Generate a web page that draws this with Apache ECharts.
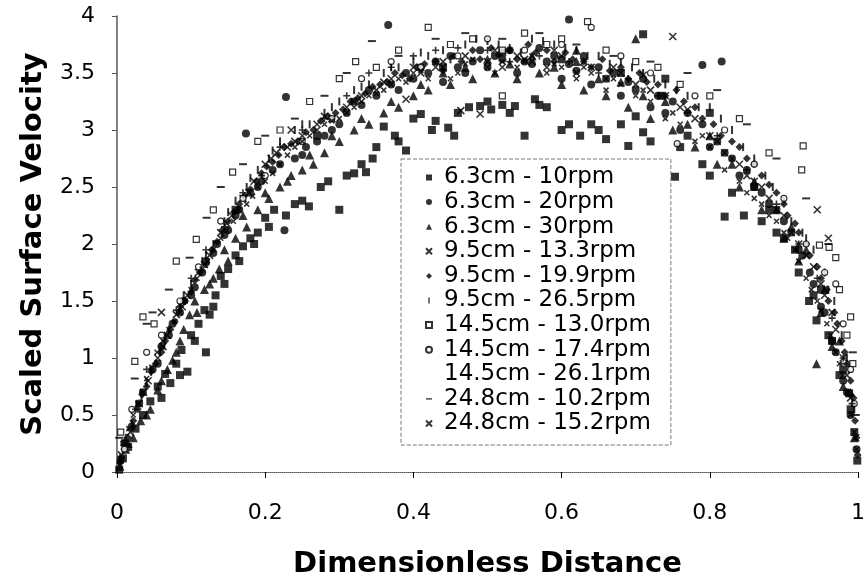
<!DOCTYPE html>
<html>
<head>
<meta charset="utf-8">
<script src="https://cdn.jsdelivr.net/npm/echarts@6/dist/echarts.min.js"></script>
<style>html,body{margin:0;padding:0;background:#fff}#c{width:868px;height:584px}</style>
</head>
<body>
<div id="c"></div>
<script>
const seriesNames = ["6.3cm - 10rpm","6.3cm - 20rpm","6.3cm - 30rpm","9.5cm - 13.3rpm","9.5cm - 19.9rpm","9.5cm - 26.5rpm","14.5cm - 13.0rpm","14.5cm - 17.4rpm","14.5cm - 26.1rpm","24.8cm - 10.2rpm","24.8cm - 15.2rpm"];
const xTicks = [0,0.2,0.4,0.6,0.8,1];
const yTicks = [0,0.5,1,1.5,2,2.5,3,3.5,4];

const d63_10 = [[0.003,0.02],[0.008,0.12],[0.015,0.22],[0.025,0.38],[0.035,0.5],[0.045,0.62],[0.055,0.75],[0.065,0.86],[0.072,0.78],[0.08,0.95],[0.087,1.07],[0.095,0.88],[0.1,1.2],[0.11,1.3],[0.118,1.42],[0.125,1.38],[0.133,1.55],[0.14,1.72],[0.15,1.78],[0.16,1.9],[0.17,1.98],[0.18,2.05],[0.19,2.1],[0.2,2.23],[0.212,2.3],[0.228,2.25],[0.24,2.35],[0.259,2.33],[0.275,2.5],[0.3,2.3],[0.31,2.6],[0.33,2.7],[0.336,2.63],[0.35,2.85],[0.36,3.03],[0.375,2.95],[0.39,2.82],[0.4,3.1],[0.41,3.14],[0.425,3.0],[0.447,3.02],[0.46,3.15],[0.475,3.2],[0.49,3.21],[0.505,3.18],[0.52,3.22],[0.537,3.21],[0.55,2.95],[0.564,3.27],[0.58,3.2],[0.6,3.0],[0.625,2.95],[0.64,3.05],[0.66,2.92],[0.69,2.86],[0.7,3.12],[0.72,2.9],[0.735,3.3],[0.753,2.59],[0.77,2.95],[0.79,2.7],[0.82,2.24],[0.846,2.25],[0.86,2.5],[0.88,2.3],[0.9,2.05],[0.915,1.95],[0.934,1.5],[0.944,1.33],[0.95,1.6],[0.96,1.2],[0.975,0.85],[0.988,0.69],[0.995,0.35],[0.999,0.1],[0.44,3.55],[0.52,3.68],[0.6,3.62],[0.68,3.5],[0.74,3.45],[0.8,3.15],[0.71,3.84],[0.16,2.3],[0.27,2.95],
  [0.13,1.45],[0.145,1.65],[0.165,1.85],[0.185,2.0],[0.205,2.15],[0.25,2.38],[0.285,2.55],[0.32,2.62],[0.345,2.75],[0.38,2.9],[0.43,3.08],[0.455,2.95],[0.5,3.25],[0.53,3.15],[0.57,3.22],[0.61,3.05],[0.65,3.0],[0.68,3.05],[0.71,2.98],[0.76,2.85],[0.8,2.6],[0.83,2.45],[0.87,2.2],[0.89,2.1],[0.92,1.75],[0.94,1.55],[0.965,1.15],[0.98,0.9],[0.99,0.55],[0.06,0.65],[0.085,0.85],[0.105,1.15],[0.12,1.05]];
const d63_20 = [[0.005,0.1],[0.02,0.4],[0.035,0.7],[0.048,0.9],[0.06,1.1],[0.075,1.3],[0.09,1.5],[0.105,1.62],[0.12,1.85],[0.135,2.0],[0.15,2.12],[0.165,2.3],[0.18,2.45],[0.195,2.55],[0.21,2.65],[0.226,2.12],[0.24,2.75],[0.255,2.85],[0.27,2.9],[0.29,3.0],[0.31,3.15],[0.33,3.22],[0.35,3.3],[0.366,3.92],[0.38,3.35],[0.4,3.45],[0.42,3.5],[0.44,3.42],[0.46,3.55],[0.48,3.6],[0.5,3.55],[0.52,3.62],[0.54,3.5],[0.56,3.58],[0.58,3.6],[0.6,3.45],[0.62,3.52],[0.64,3.4],[0.66,3.45],[0.68,3.3],[0.7,3.35],[0.72,3.2],[0.74,3.15],[0.76,3.0],[0.79,3.57],[0.816,3.6],[0.8,2.85],[0.82,2.8],[0.84,2.6],[0.86,2.5],[0.88,2.35],[0.9,2.2],[0.92,1.95],[0.935,1.75],[0.95,1.45],[0.965,1.15],[0.98,0.8],[0.99,0.5],[0.998,0.2],[0.174,2.97],[0.228,3.29],[0.61,3.97],
  [0.01,0.25],[0.03,0.6],[0.055,0.95],[0.07,1.2],[0.085,1.4],[0.1,1.55],[0.115,1.75],[0.13,1.92],[0.145,2.08],[0.16,2.25],[0.19,2.5],[0.22,2.7],[0.25,2.78],[0.28,2.95],[0.3,3.05],[0.32,3.25],[0.34,3.35],[0.37,3.4],[0.39,3.5],[0.41,3.55],[0.43,3.6],[0.45,3.65],[0.47,3.5],[0.49,3.7],[0.51,3.65],[0.53,3.7],[0.55,3.6],[0.57,3.72],[0.59,3.65],[0.61,3.58],[0.63,3.65],[0.65,3.55],[0.67,3.5],[0.69,3.42],[0.71,3.45],[0.73,3.3],[0.75,3.25],[0.77,3.15],[0.79,3.05],[0.81,2.9],[0.83,2.75],[0.85,2.65],[0.87,2.45],[0.89,2.3],[0.91,2.1],[0.925,1.9],[0.94,1.65],[0.955,1.4],[0.97,1.05],[0.985,0.7]];
const d63_30 = [[0.004,0.05],[0.012,0.2],[0.022,0.3],[0.032,0.45],[0.045,0.55],[0.055,0.72],[0.068,0.9],[0.08,1.05],[0.09,1.25],[0.098,1.38],[0.108,1.4],[0.118,1.6],[0.13,1.7],[0.138,1.78],[0.15,1.85],[0.16,2.05],[0.175,2.15],[0.19,2.3],[0.205,2.4],[0.22,2.5],[0.235,2.6],[0.25,2.65],[0.265,2.7],[0.28,2.8],[0.3,2.9],[0.32,3.0],[0.34,3.05],[0.36,3.15],[0.38,3.2],[0.4,3.3],[0.42,3.35],[0.45,3.4],[0.48,3.45],[0.51,3.5],[0.54,3.45],[0.57,3.5],[0.6,3.4],[0.63,3.35],[0.66,3.3],[0.69,3.2],[0.72,3.1],[0.75,3.0],[0.78,2.85],[0.81,2.7],[0.84,2.5],[0.87,2.3],[0.9,2.05],[0.92,1.85],[0.944,0.95],[0.95,1.4],[0.965,1.1],[0.98,0.75],[0.995,0.3],[0.7,3.8],[0.62,3.7],
  [0.015,0.25],[0.04,0.5],[0.06,0.8],[0.075,0.98],[0.085,1.15],[0.105,1.5],[0.125,1.65],[0.145,1.95],[0.17,2.25],[0.2,2.45],[0.23,2.55],[0.26,2.78],[0.29,2.95],[0.33,3.1],[0.37,3.25],[0.41,3.4],[0.44,3.5],[0.47,3.55],[0.5,3.62],[0.53,3.58],[0.56,3.65],[0.59,3.55],[0.62,3.6],[0.65,3.45],[0.68,3.42],[0.71,3.3],[0.74,3.25],[0.77,3.05],[0.8,2.95],[0.83,2.7],[0.86,2.55],[0.89,2.3],[0.91,2.15],[0.93,1.95],[0.955,1.6],[0.975,1.15],[0.99,0.7]];
const d95_133 = [[0.006,0.15],[0.018,0.35],[0.03,0.6],[0.042,0.8],[0.055,1.0],[0.068,1.2],[0.08,1.38],[0.095,1.55],[0.11,1.75],[0.125,1.9],[0.14,2.1],[0.155,2.25],[0.17,2.4],[0.185,2.55],[0.2,2.7],[0.215,2.8],[0.23,2.85],[0.25,2.95],[0.27,3.05],[0.29,3.1],[0.31,3.2],[0.33,3.3],[0.35,3.35],[0.37,3.45],[0.39,3.27],[0.41,3.5],[0.43,3.55],[0.464,3.17],[0.49,3.14],[0.5,3.6],[0.52,3.55],[0.54,3.65],[0.56,3.6],[0.58,3.55],[0.6,3.65],[0.62,3.5],[0.64,3.55],[0.66,3.45],[0.68,3.5],[0.7,3.4],[0.72,3.35],[0.75,3.82],[0.76,3.2],[0.78,3.1],[0.8,2.95],[0.82,2.8],[0.84,2.7],[0.86,2.55],[0.88,2.4],[0.9,2.25],[0.92,2.0],[0.94,1.8],[0.955,1.55],[0.97,1.25],[0.98,1.0],[0.99,0.65],[0.997,0.3],[0.96,2.05],[0.945,2.3],[0.235,3.0],[0.06,1.4],
  [0.012,0.25],[0.036,0.7],[0.062,1.1],[0.088,1.45],[0.118,1.82],[0.148,2.18],[0.178,2.45],[0.208,2.75],[0.24,2.9],[0.28,3.12],[0.32,3.25],[0.36,3.42],[0.4,3.55],[0.44,3.6],[0.47,3.65],[0.51,3.7],[0.55,3.62],[0.59,3.7],[0.63,3.6],[0.67,3.55],[0.71,3.48],[0.74,3.3],[0.77,3.18],[0.81,2.9],[0.85,2.6],[0.87,2.5],[0.89,2.3],[0.91,2.1],[0.93,1.9],[0.95,1.65],[0.965,1.4],[0.985,0.85]];
const d95_199 = [[0.004,0.08],[0.015,0.3],[0.028,0.55],[0.04,0.75],[0.052,0.95],[0.065,1.15],[0.078,1.32],[0.092,1.5],[0.105,1.68],[0.12,1.82],[0.135,2.02],[0.15,2.2],[0.165,2.35],[0.18,2.48],[0.195,2.62],[0.21,2.72],[0.225,2.85],[0.245,2.9],[0.265,3.0],[0.285,3.12],[0.305,3.18],[0.325,3.28],[0.345,3.38],[0.365,3.42],[0.385,3.48],[0.405,3.55],[0.43,3.6],[0.455,3.65],[0.48,3.7],[0.505,3.72],[0.53,3.7],[0.555,3.75],[0.58,3.7],[0.605,3.68],[0.63,3.6],[0.655,3.62],[0.68,3.55],[0.705,3.5],[0.73,3.4],[0.755,3.35],[0.78,3.2],[0.805,3.05],[0.83,2.9],[0.85,2.75],[0.87,2.6],[0.89,2.45],[0.905,2.25],[0.92,2.1],[0.935,1.9],[0.95,1.7],[0.96,1.5],[0.972,1.3],[0.982,1.05],[0.99,0.8],[0.996,0.45],[0.9995,0.15],
  [0.01,0.2],[0.022,0.45],[0.034,0.68],[0.046,0.88],[0.06,1.05],[0.072,1.25],[0.085,1.45],[0.1,1.58],[0.112,1.75],[0.128,1.95],[0.142,2.12],[0.158,2.28],[0.172,2.42],[0.188,2.55],[0.202,2.68],[0.218,2.78],[0.235,2.88],[0.255,2.98],[0.275,3.08],[0.295,3.15],[0.315,3.25],[0.335,3.32],[0.355,3.4],[0.375,3.5],[0.395,3.45],[0.415,3.58],[0.44,3.52],[0.465,3.6],[0.49,3.62],[0.515,3.66],[0.54,3.62],[0.565,3.68],[0.59,3.6],[0.615,3.62],[0.64,3.55],[0.665,3.52],[0.69,3.45],[0.715,3.42],[0.74,3.3],[0.765,3.25],[0.79,3.1],[0.815,2.95],[0.84,2.85],[0.86,2.7],[0.88,2.52],[0.9,2.35],[0.915,2.18],[0.93,2.0],[0.945,1.8],[0.958,1.6],[0.968,1.4],[0.978,1.15],[0.986,0.95],[0.994,0.65],[0.998,0.3]];
const d95_265 = [[0.008,0.2],[0.02,0.42],[0.033,0.65],[0.046,0.88],[0.058,1.05],[0.07,1.25],[0.085,1.45],[0.1,1.65],[0.115,1.85],[0.13,2.0],[0.145,2.2],[0.16,2.38],[0.175,2.5],[0.19,2.65],[0.205,2.75],[0.22,2.9],[0.24,3.0],[0.26,3.05],[0.28,3.15],[0.3,3.25],[0.32,3.35],[0.34,3.4],[0.36,3.5],[0.38,3.55],[0.4,3.6],[0.42,3.65],[0.44,3.7],[0.47,3.75],[0.5,3.78],[0.53,3.72],[0.56,3.8],[0.59,3.75],[0.62,3.7],[0.65,3.65],[0.68,3.6],[0.71,3.5],[0.74,3.4],[0.77,3.3],[0.8,3.2],[0.83,3.0],[0.86,2.75],[0.885,2.5],[0.91,2.2],[0.925,2.1],[0.94,1.95],[0.955,1.75],[0.968,1.5],[0.978,1.2],[0.988,0.9],[0.995,0.55],
  [0.012,0.3],[0.04,0.78],[0.065,1.18],[0.09,1.55],[0.12,1.9],[0.15,2.28],[0.18,2.58],[0.21,2.82],[0.25,3.05],[0.29,3.2],[0.33,3.38],[0.37,3.55],[0.41,3.68],[0.45,3.62],[0.485,3.8],[0.515,3.75],[0.545,3.68],[0.575,3.78],[0.605,3.72],[0.635,3.65],[0.665,3.58],[0.695,3.55],[0.725,3.45],[0.755,3.35],[0.785,3.2],[0.815,3.1],[0.845,2.85],[0.875,2.6],[0.9,2.38],[0.93,2.05],[0.96,1.6],[0.985,1.0]];
const d145_130 = [[0.005,0.35],[0.024,0.97],[0.035,1.36],[0.05,1.3],[0.08,1.85],[0.107,2.04],[0.13,2.3],[0.156,2.63],[0.19,2.9],[0.22,3.0],[0.26,3.25],[0.3,3.45],[0.322,3.6],[0.35,3.55],[0.38,3.7],[0.42,3.9],[0.45,3.75],[0.48,3.8],[0.52,3.7],[0.55,3.85],[0.58,3.75],[0.6,3.8],[0.635,3.95],[0.66,3.7],[0.7,3.6],[0.73,3.55],[0.76,3.4],[0.8,3.3],[0.84,3.1],[0.88,2.8],[0.924,2.65],[0.926,2.86],[0.948,1.99],[0.961,1.97],[0.97,1.88],[0.975,1.6],[0.99,1.36],[0.993,0.95],[0.985,1.2],[0.52,3.3]];
const d145_174 = [[0.01,0.2],[0.02,0.55],[0.04,1.05],[0.06,1.2],[0.085,1.5],[0.11,1.8],[0.14,2.2],[0.17,2.4],[0.2,2.6],[0.25,2.9],[0.29,3.1],[0.33,3.45],[0.37,3.6],[0.41,3.55],[0.46,3.65],[0.5,3.8],[0.55,3.7],[0.6,3.75],[0.64,3.9],[0.68,3.65],[0.72,3.5],[0.756,2.88],[0.78,3.3],[0.82,3.0],[0.86,2.7],[0.9,2.4],[0.93,2.0],[0.955,1.75],[0.97,1.65],[0.98,1.3],[0.995,0.6],[0.99,0.9]];
const d145_261 = [[0.01,0.28],[0.025,0.55],[0.04,0.9],[0.06,1.1],[0.08,1.42],[0.1,1.7],[0.12,1.95],[0.145,2.15],[0.17,2.45],[0.195,2.6],[0.22,2.85],[0.25,3.0],[0.28,3.1],[0.31,3.3],[0.34,3.5],[0.37,3.55],[0.4,3.65],[0.43,3.7],[0.46,3.72],[0.5,3.7],[0.53,3.6],[0.57,3.65],[0.61,3.6],[0.65,3.5],[0.69,3.45],[0.73,3.3],[0.77,3.15],[0.81,2.95],[0.85,2.65],[0.89,2.35],[0.92,2.0],[0.945,1.7],[0.965,1.35],[0.98,1.0],[0.992,0.6]];
const d248_102 = [[0.003,0.3],[0.024,0.82],[0.04,1.3],[0.048,1.4],[0.07,1.6],[0.098,1.88],[0.121,2.23],[0.14,2.5],[0.17,2.7],[0.2,2.95],[0.24,3.1],[0.28,3.3],[0.31,3.5],[0.344,3.78],[0.38,3.65],[0.43,3.8],[0.47,3.85],[0.52,3.8],[0.57,3.85],[0.62,3.75],[0.67,3.65],[0.72,3.6],[0.77,3.5],[0.81,3.35],[0.85,3.05],[0.89,2.75],[0.93,2.4],[0.96,2.0],[0.98,0.95],[0.993,1.05],[0.997,0.5]];
const d248_152 = [[0.004,0.12],[0.016,0.38],[0.028,0.6],[0.04,0.82],[0.054,1.05],[0.07,1.25],[0.085,1.4],[0.1,1.6],[0.115,1.78],[0.13,1.95],[0.148,2.12],[0.165,2.3],[0.183,2.42],[0.2,2.55],[0.22,2.7],[0.24,2.85],[0.26,2.95],[0.28,3.05],[0.3,3.1],[0.32,3.2],[0.34,3.3],[0.36,3.35],[0.38,3.45],[0.4,3.5],[0.42,3.45],[0.44,3.55],[0.46,3.5],[0.48,3.62],[0.5,3.55],[0.52,3.6],[0.54,3.55],[0.56,3.65],[0.58,3.5],[0.6,3.55],[0.62,3.45],[0.64,3.5],[0.66,3.35],[0.68,3.4],[0.7,3.3],[0.72,3.25],[0.74,3.1],[0.76,3.05],[0.78,2.9],[0.8,2.85],[0.82,2.65],[0.84,2.55],[0.86,2.4],[0.88,2.25],[0.9,2.1],[0.915,1.95],[0.93,1.7],[0.945,1.5],[0.958,1.3],[0.97,1.05],[0.98,0.85],[0.99,0.5],[0.998,0.2],
  [0.008,0.25],[0.022,0.5],[0.034,0.7],[0.047,0.92],[0.062,1.15],[0.078,1.32],[0.092,1.5],[0.108,1.7],[0.122,1.85],[0.14,2.05],[0.157,2.2],[0.175,2.35],[0.19,2.5],[0.21,2.62],[0.23,2.78],[0.25,2.9],[0.27,3.0],[0.29,3.08],[0.31,3.15],[0.33,3.25],[0.35,3.32],[0.37,3.4],[0.39,3.42],[0.41,3.52],[0.45,3.45],[0.47,3.58],[0.51,3.5],[0.55,3.6],[0.59,3.58],[0.63,3.55],[0.67,3.45],[0.71,3.35],[0.75,3.15],[0.79,2.95],[0.83,2.75],[0.85,2.45],[0.87,2.35],[0.89,2.2],[0.905,2.05],[0.92,1.85],[0.937,1.6],[0.95,1.42],[0.963,1.2],[0.975,0.95],[0.985,0.7],[0.995,0.35]];

const seriesData = [d63_10,d63_20,d63_30,d95_133,d95_199,d95_265,d145_130,d145_174,d145_261,d248_102,d248_152];

const CROSS = 'path://M0,0L10,10M10,0L0,10';
const PLUS = 'path://M5,0L5,10M0,5L10,5';
const VBAR = 'path://M0,0L2,0L2,9L0,9Z';
const HBAR = 'path://M0,0L9,0L9,2L0,2Z';
const solid = {color:'#000'};
const stroke = {color:'rgba(0,0,0,0)', borderColor:'#000', borderWidth:1.6};
const hollow = {color:'#fff', borderColor:'#000', borderWidth:1.2};
const styles = [
  {symbol:'rect', size:8, item:solid, icon:'rect'},
  {symbol:'circle', size:8, item:solid, icon:'circle'},
  {symbol:'triangle', size:9, item:solid, icon:'triangle'},
  {symbol:CROSS, size:7, item:stroke, icon:CROSS},
  {symbol:'diamond', size:8, item:solid, icon:'diamond'},
  {symbol:VBAR, size:[2,8], item:solid, icon:VBAR},
  {symbol:'rect', size:6, item:hollow, icon:'rect'},
  {symbol:'circle', size:6, item:hollow, icon:'circle'},
  {symbol:PLUS, size:7, item:stroke, icon:'circle', hideIcon:true},
  {symbol:HBAR, size:[8,2], item:solid, icon:HBAR},
  {symbol:CROSS, size:5, item:stroke, icon:CROSS}
];

const FONT = 'DejaVu Sans';
const chart = echarts.init(document.getElementById('c'), null, {renderer:'canvas'});
const series = seriesData.map((d,i)=>({
  name: seriesNames[i], type:'scatter', data:d,
  symbol: styles[i].symbol, symbolSize: styles[i].size,
  itemStyle: styles[i].item, animation:false, xAxisIndex:0, yAxisIndex:0
}));
const legendData = seriesNames.map((n,i)=>{
  const o = {name:n, icon: styles[i].icon};
  if (styles[i].hideIcon) o.itemStyle = {color:'rgba(0,0,0,0)', borderColor:'rgba(0,0,0,0)', opacity:0};
  return o;
});
chart.setOption({
  backgroundColor:'#fff',
  animation:false,
  grid:{left:117, right:6, top:16, bottom:108, containLabel:false},
  legend:{
    orient:'vertical', left:401, top:159, selectedMode:false,
    data:legendData, itemWidth:6, itemHeight:6, itemGap:1.6,
    padding:[7,20,10,24],
    backgroundColor:'#fff', borderColor:'#777', borderWidth:1, borderType:'dashed',
    textStyle:{fontFamily:FONT, fontSize:23, color:'#000', lineHeight:23, padding:[0,0,0,7]}
  },
  xAxis:[{
    type:'value', min:xTicks[0], max:xTicks[xTicks.length-1], interval:0.2,
    name:'Dimensionless Distance', nameLocation:'middle', nameGap:78,
    nameTextStyle:{fontFamily:FONT, fontSize:29, fontWeight:'bold', color:'#000'},
    axisLine:{show:true, lineStyle:{color:'#000', width:1}},
    axisTick:{show:true, inside:false, length:6, lineStyle:{color:'#000'}},
    axisLabel:{fontFamily:FONT, fontSize:22, color:'#000', margin:30},
    splitLine:{show:false}
  },{
    type:'value', position:'top', min:0, max:1,
    axisLine:{show:true, lineStyle:{color:'#888', type:'dotted', width:1}},
    axisTick:{show:false}, axisLabel:{show:false}, splitLine:{show:false}
  }],
  yAxis:[{
    type:'value', min:yTicks[0], max:yTicks[yTicks.length-1], interval:0.5,
    name:'Scaled Surface Velocity', nameLocation:'middle', nameGap:69, nameRotate:90,
    nameTextStyle:{fontFamily:FONT, fontSize:29, fontWeight:'bold', color:'#000'},
    axisLine:{show:true, lineStyle:{color:'#555', width:1.5}},
    axisTick:{show:true, inside:false, length:5, lineStyle:{color:'#555'}},
    axisLabel:{fontFamily:FONT, fontSize:22, color:'#000', margin:22},
    splitLine:{show:false}
  },{
    type:'value', position:'right', min:0, max:4,
    axisLine:{show:true, lineStyle:{color:'#888', type:'dotted', width:1}},
    axisTick:{show:false}, axisLabel:{show:false}, splitLine:{show:false}
  }],
  series: series
});
</script>
</body>
</html>
